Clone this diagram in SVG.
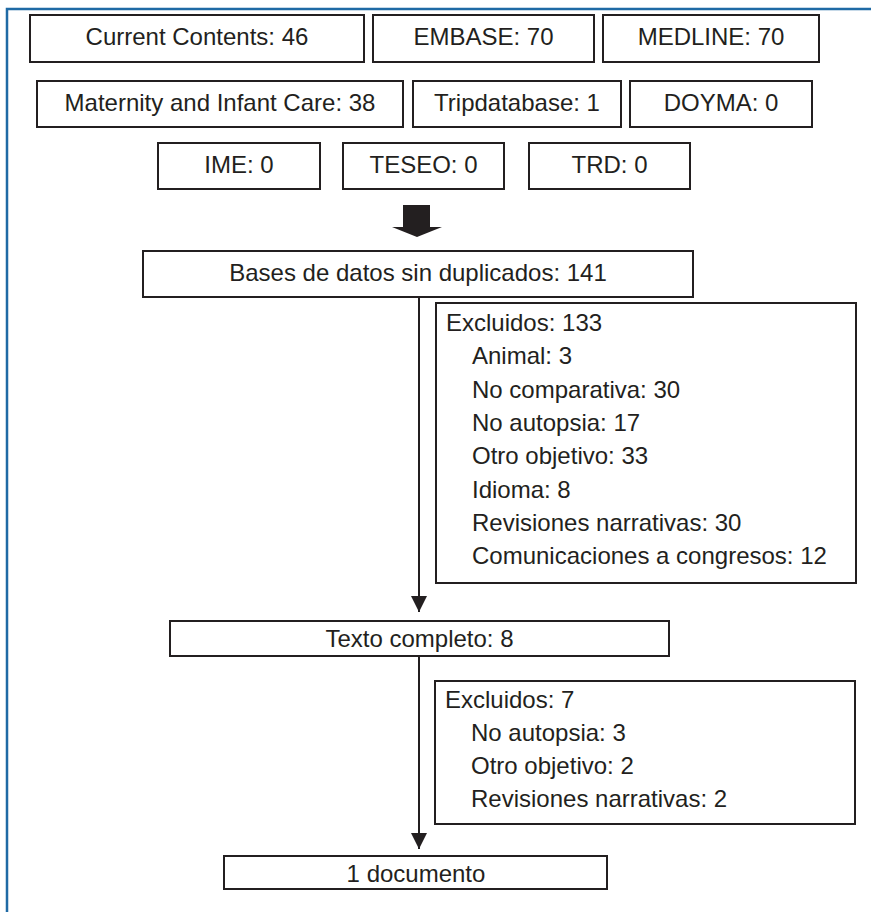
<svg xmlns="http://www.w3.org/2000/svg" width="871" height="912" viewBox="0 0 871 912">
<defs>
<style>
.box{fill:#fff;stroke:#231f20;stroke-width:2}
.t{font-family:"Liberation Sans",Arial,sans-serif;font-size:24px;fill:#231f20}
.c{text-anchor:middle}
.ln{stroke:#231f20;stroke-width:2;fill:none}
</style>
<marker id="ah" viewBox="0 0 16 16" markerWidth="16" markerHeight="16" refX="16" refY="8" orient="auto" markerUnits="userSpaceOnUse">
<path d="M0,0 L16,8 L0,16 Z" fill="#231f20"/>
</marker>
</defs>
<rect width="871" height="912" fill="#fff"/>
<path d="M7,912 V9 H871" fill="none" stroke="#1f6aa5" stroke-width="2.5"/>

<g id="n-current"><rect class="box" x="30" y="15" width="334" height="47"/><text class="t c" x="197" y="45">Current Contents: 46</text></g>
<g id="n-embase"><rect class="box" x="373" y="15" width="221" height="47"/><text class="t c" x="483.5" y="45">EMBASE: 70</text></g>
<g id="n-medline"><rect class="box" x="603" y="15" width="216" height="47"/><text class="t c" x="711" y="45">MEDLINE: 70</text></g>

<g id="n-maternity"><rect class="box" x="37" y="81" width="366" height="46"/><text class="t c" x="220" y="111">Maternity and Infant Care: 38</text></g>
<g id="n-trip"><rect class="box" x="413" y="81" width="208" height="46"/><text class="t c" x="517" y="111">Tripdatabase: 1</text></g>
<g id="n-doyma"><rect class="box" x="630" y="81" width="182" height="46"/><text class="t c" x="721" y="111">DOYMA: 0</text></g>

<g id="n-ime"><rect class="box" x="158" y="143" width="162" height="46"/><text class="t c" x="239" y="173">IME: 0</text></g>
<g id="n-teseo"><rect class="box" x="343" y="143" width="161" height="46"/><text class="t c" x="423.5" y="173">TESEO: 0</text></g>
<g id="n-trd"><rect class="box" x="529" y="143" width="161" height="46"/><text class="t c" x="609.5" y="173">TRD: 0</text></g>

<g id="n-bases"><rect class="box" x="143" y="251" width="550" height="46"/><text class="t c" x="418" y="281">Bases de datos sin duplicados: 141</text></g>

<g id="n-excl1"><rect class="box" x="436" y="303" width="420" height="280"/>
<text class="t" x="446" y="331">Excluidos: 133</text>
<text class="t" x="472" y="364">Animal: 3</text>
<text class="t" x="472" y="397.5">No comparativa: 30</text>
<text class="t" x="472" y="431">No autopsia: 17</text>
<text class="t" x="472" y="464">Otro objetivo: 33</text>
<text class="t" x="472" y="497.5">Idioma: 8</text>
<text class="t" x="472" y="531">Revisiones narrativas: 30</text>
<text class="t" x="472" y="564">Comunicaciones a congresos: 12</text>
</g>

<g id="n-texto"><rect class="box" x="170" y="621" width="499" height="35"/><text class="t c" x="419.5" y="647">Texto completo: 8</text></g>

<g id="n-excl2"><rect class="box" x="435" y="681" width="420" height="143"/>
<text class="t" x="445" y="708">Excluidos: 7</text>
<text class="t" x="471" y="741">No autopsia: 3</text>
<text class="t" x="471" y="774">Otro objetivo: 2</text>
<text class="t" x="471" y="807">Revisiones narrativas: 2</text>
</g>

<g id="n-doc"><rect class="box" x="224" y="856" width="383" height="33"/><text class="t c" x="416" y="882">1 documento</text></g>

<g id="connectors">
<path d="M403,205 H430 V227 H442 L417,237 L392,227 H403 Z" fill="#231f20"/>
<line class="ln" x1="419" y1="297" x2="419" y2="612" marker-end="url(#ah)"/>
<line class="ln" x1="419" y1="656" x2="419" y2="849" marker-end="url(#ah)"/>
</g>
</svg>
